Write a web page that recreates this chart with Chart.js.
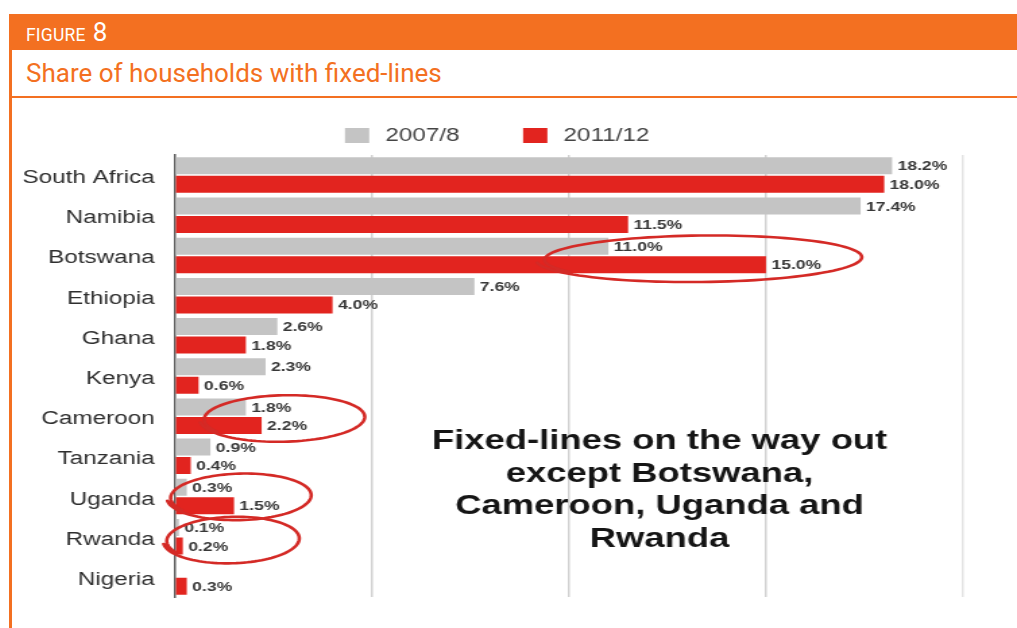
<!DOCTYPE html>
<html>
<head>
<meta charset="utf-8">
<script src="https://cdn.jsdelivr.net/npm/chart.js@4.4.1/dist/chart.umd.min.js"></script>
<style>
  html, body { margin: 0; padding: 0; background: #fff; }
  body { width: 1017px; height: 628px; position: relative; overflow: hidden; font-family: Roboto, "Open Sans", sans-serif; }
  .edge { position: absolute; left: 9px; top: 14px; width: 3px; height: 614px; background: #F37021; }
  .band { position: absolute; left: 9px; top: 14px; width: 1008px; height: 36px; box-sizing: border-box;
          padding: 5px 0 0 17px; background: #F37021; color: #fff; display: flex; align-items: baseline; }
  .band .fig { font-size: 17.5px; line-height: 1; letter-spacing: 0.2px; }
  .band .num { font-size: 26px; line-height: 1; margin-left: 7px; }
  .title { position: absolute; left: 26px; top: 60px; font-size: 26px; line-height: 1; color: #F37021; }
  .rule { position: absolute; left: 9px; top: 96px; width: 1008px; height: 2px; background: #F37021; }
  #c { position: absolute; left: 12px; top: 98px; display: block; }
</style>
</head>
<body>
<div class="edge"></div>
<div class="band"><span class="fig">FIGURE</span><span class="num">8</span></div>
<div class="title">Share of households with fixed-lines</div>
<div class="rule"></div>
<canvas id="c" width="745" height="530" style="width:1005px;height:530px"></canvas>

<script>
// Share of households with a fixed telephone line, by country (%)
const countries = ['South Africa', 'Namibia', 'Botswana', 'Ethiopia', 'Ghana', 'Kenya',
                   'Cameroon', 'Tanzania', 'Uganda', 'Rwanda', 'Nigeria'];
const share2007 = [18.2, 17.4, 11.0, 7.6, 2.6, 2.3, 1.8, 0.9, 0.3, 0.1, null];
const share2011 = [18.0, 11.5, 15.0, 4.0, 1.8, 0.6, 2.2, 0.4, 1.5, 0.2, 0.3];
const seriesNames = ['2007/8', '2011/12'];
const axisTicks = [0, 5, 10, 15, 20];

// Countries where fixed-line take-up went up, circled on the chart
const risers = ['Botswana', 'Cameroon', 'Uganda', 'Rwanda'];
const noteLines = ['Fixed-lines on the way out', 'except Botswana,', 'Cameroon, Uganda and', 'Rwanda'];

const GREY = '#C4C4C4';
const RED = '#E2241F';
const LABEL_FONT = '"Liberation Sans", Arial, sans-serif';

// Legend row above the plot
const legendRow = {
  id: 'legendRow',
  afterDraw(chart, args, opts) {
    const ctx = chart.ctx;
    ctx.save();
    ctx.font = '18px ' + LABEL_FONT;
    ctx.textBaseline = 'middle';
    ctx.textAlign = 'left';
    let x = chart.chartArea.left + opts.offsetX;
    const y = opts.y;
    chart.data.datasets.forEach(ds => {
      ctx.fillStyle = ds.backgroundColor;
      ctx.fillRect(x, y - 7.5, 18, 15);
      x += 18 + 12;
      ctx.fillStyle = '#444';
      ctx.fillText(ds.label, x, y + 1);
      x += ctx.measureText(ds.label).width + 47;
    });
    ctx.restore();
  }
};

// Value labels at the end of every bar
const barValues = {
  id: 'barValues',
  afterDatasetsDraw(chart) {
    const ctx = chart.ctx;
    ctx.save();
    ctx.font = 'bold 13px ' + LABEL_FONT;
    ctx.fillStyle = '#383838';
    ctx.textBaseline = 'middle';
    ctx.textAlign = 'left';
    chart.data.datasets.forEach((ds, di) => {
      chart.getDatasetMeta(di).data.forEach((bar, i) => {
        const v = ds.data[i];
        if (v === null || v === undefined) return;
        ctx.fillText(v.toFixed(1) + '%', bar.x + 4, bar.y + 1);
      });
    });
    ctx.restore();
  }
};

// Hand-drawn style loops around selected countries
const rings = {
  id: 'rings',
  afterDraw(chart, args, opts) {
    const ctx = chart.ctx;
    const xs = chart.scales.x, ys = chart.scales.y;
    const band = (ys.bottom - ys.top) / countries.length;
    ctx.save();
    ctx.strokeStyle = '#D42A26';
    ctx.lineWidth = 2.6;
    ctx.lineCap = 'round';
    risers.forEach(name => {
      const span = opts.spans[name];
      const idx = countries.indexOf(name);
      const x0 = xs.getPixelForValue(span[0]);
      const x1 = xs.getPixelForValue(span[1]);
      const cx = (x0 + x1) / 2;
      const cy = ys.getPixelForValue(idx) + span[2];
      const rx = (x1 - x0) / 2;
      const ry = band * 0.56;
      const t0 = Math.PI * 0.82;
      const sweep = Math.PI * 2 + 0.45;
      ctx.beginPath();
      for (let k = 0; k <= 120; k++) {
        const t = t0 + sweep * k / 120;
        const grow = 1 + 0.06 * (k / 120);
        const px = cx + rx * grow * Math.cos(t);
        const py = cy + ry * grow * Math.sin(t) + Math.cos(t) * -1.5;
        if (k === 0) ctx.moveTo(px, py); else ctx.lineTo(px, py);
      }
      ctx.stroke();
    });
    ctx.restore();
  }
};

// Centred commentary inside the plot
const note = {
  id: 'note',
  afterDraw(chart, args, opts) {
    const ctx = chart.ctx;
    const cx = chart.scales.x.getPixelForValue(opts.xValue);
    const cy = chart.scales.y.getPixelForValue(opts.yValue);
    ctx.save();
    ctx.font = 'bold 27px ' + LABEL_FONT;
    ctx.fillStyle = '#151515';
    ctx.textAlign = 'center';
    ctx.textBaseline = 'middle';
    noteLines.forEach((line, i) => ctx.fillText(line, cx, cy + i * 32.5));
    ctx.restore();
  }
};

new Chart(document.getElementById('c'), {
  type: 'bar',
  data: {
    labels: countries,
    datasets: [
      { label: seriesNames[0], data: share2007, backgroundColor: GREY },
      { label: seriesNames[1], data: share2011, backgroundColor: RED }
    ]
  },
  options: {
    indexAxis: 'y',
    responsive: false,
    devicePixelRatio: 1,
    animation: false,
    events: [],
    categoryPercentage: 0.92,
    barPercentage: 0.92,
    layout: { padding: { left: 0, right: 40, top: 57, bottom: 31 } },
    scales: {
      x: {
        min: axisTicks[0],
        max: axisTicks[axisTicks.length - 1],
        afterBuildTicks(scale) { scale.ticks = axisTicks.map(v => ({ value: v })); },
        ticks: { display: false },
        grid: {
          drawTicks: false,
          lineWidth: 1.5,
          color: c => {
            if (!c.tick || c.tick.value === 0) return 'rgba(0,0,0,0)';
            return c.tick.value === 20 ? '#E4E4E4' : '#D2D2D2';
          }
        },
        border: { display: false }
      },
      y: {
        afterFit(scale) { scale.width = 120.8; },
        grid: { display: false, drawTicks: false },
        border: { display: true, color: '#5a5a5a', width: 1.5 },
        ticks: { padding: 15, labelOffset: 3, color: '#2e2e2e', font: { family: LABEL_FONT, size: 18 } }
      }
    },
    plugins: {
      legend: { display: false },
      tooltip: { enabled: false },
      legendRow: { offsetX: 126, y: 37.5 },
      note: { xValue: 12.3, yValue: 6.64 },
      rings: {
        spans: {
          Botswana: [9.4, 17.3, 3],
          Cameroon: [0.75, 4.75, 2],
          Uganda: [-0.1, 3.4, 0],
          Rwanda: [-0.2, 3.1, 3]
        }
      }
    }
  },
  plugins: [legendRow, barValues, note, rings]
});
</script>
</body>
</html>
